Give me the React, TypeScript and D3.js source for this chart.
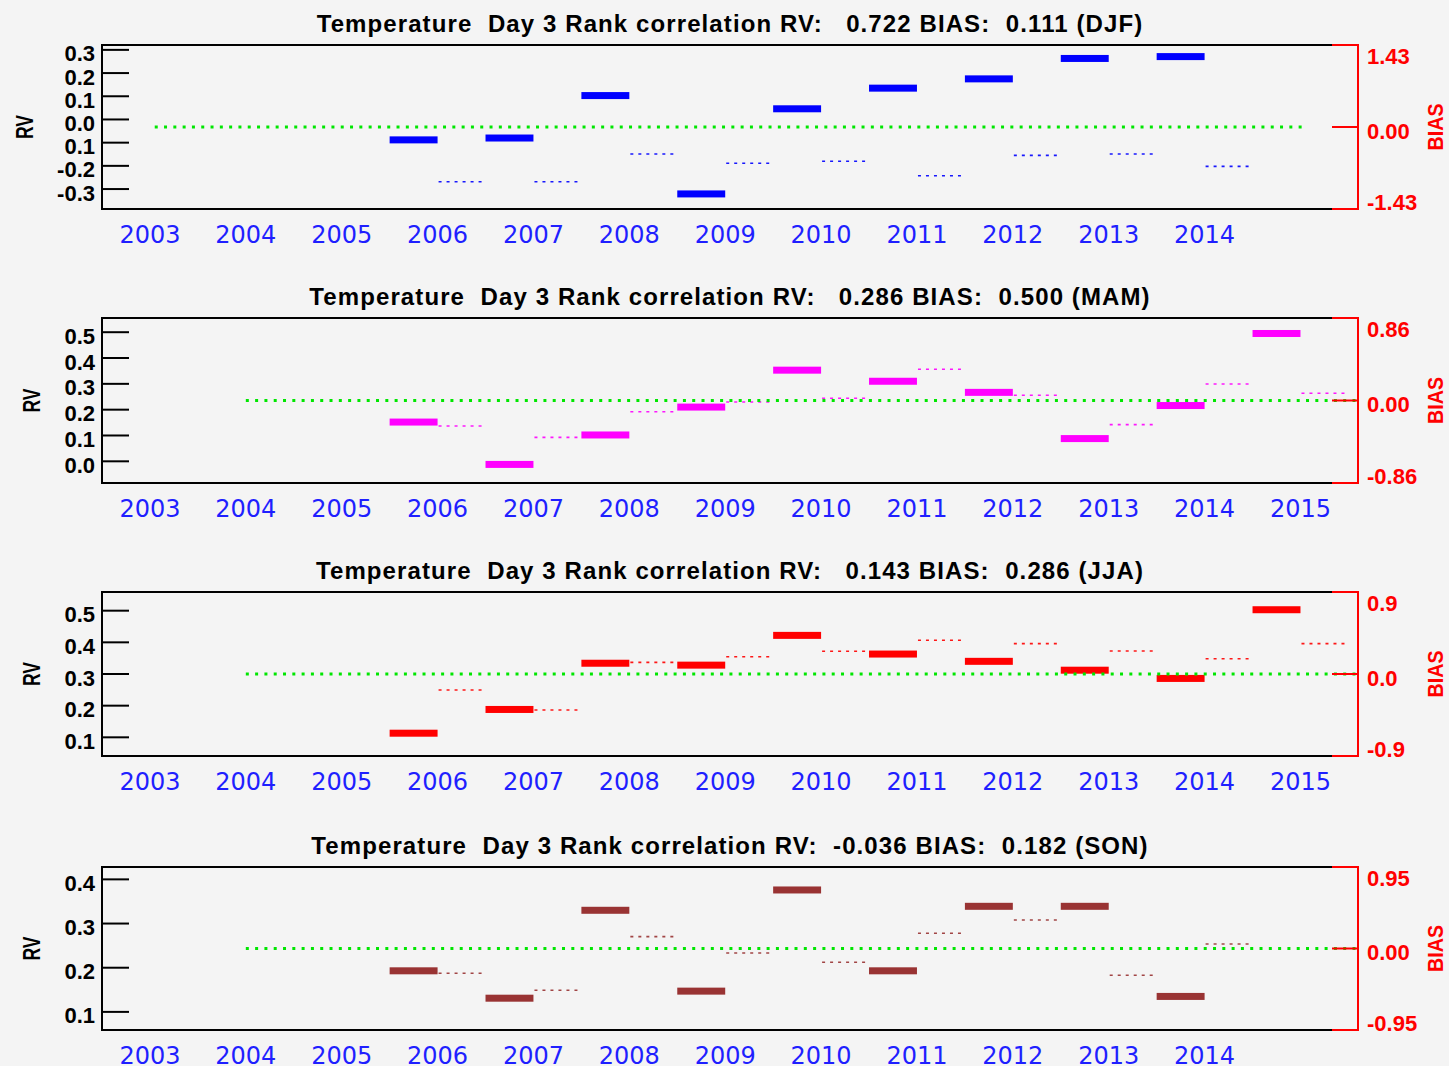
import React from 'react';
import * as d3 from 'd3';

// ---------- DATA ----------
const djfTitle = 'Temperature  Day 3 Rank correlation RV:   0.722 BIAS:  0.111 (DJF)';
const djfXLabels = [2003, 2004, 2005, 2006, 2007, 2008, 2009, 2010, 2011, 2012, 2013, 2014];
const djfYears = [2006, 2007, 2008, 2009, 2010, 2011, 2012, 2013, 2014];
const djfRV = [-0.088, -0.08, 0.103, -0.321, 0.046, 0.135, 0.175, 0.263, 0.271];
const djfBias = [-0.954, -0.954, -0.471, -0.633, -0.598, -0.849, -0.494, -0.471, -0.686];
const djfRVDomain = [-0.386, 0.321];
const djfRVTicks = [0.3, 0.2, 0.1, 0.0, -0.1, -0.2, -0.3];
const djfRVTickLabels = ['0.3', '0.2', '0.1', '0.0', '0.1', '-0.2', '-0.3'];
const djfBiasMax = 1.43;
const djfBiasLabels = ['1.43', '0.00', '-1.43'];
const djfZeroSpan = [2003.05, 2015.02];

const mamTitle = 'Temperature  Day 3 Rank correlation RV:   0.286 BIAS:  0.500 (MAM)';
const mamXLabels = [2003, 2004, 2005, 2006, 2007, 2008, 2009, 2010, 2011, 2012, 2013, 2014, 2015];
const mamYears = [2006, 2007, 2008, 2009, 2010, 2011, 2012, 2013, 2014, 2015];
const mamRV = [0.152, -0.012, 0.102, 0.21, 0.353, 0.31, 0.267, 0.088, 0.216, 0.495];
const mamBias = [-0.266, -0.384, -0.117, -0.016, 0.023, 0.325, 0.054, -0.252, 0.172, 0.075];
const mamRVDomain = [-0.084, 0.555];
const mamRVTicks = [0.5, 0.4, 0.3, 0.2, 0.1, 0.0];
const mamRVTickLabels = ['0.5', '0.4', '0.3', '0.2', '0.1', '0.0'];
const mamBiasMax = 0.86;
const mamBiasLabels = ['0.86', '0.00', '-0.86'];
const mamZeroSpan = [2004.0, 2015.6];

const jjaTitle = 'Temperature  Day 3 Rank correlation RV:   0.143 BIAS:  0.286 (JJA)';
const jjaXLabels = [2003, 2004, 2005, 2006, 2007, 2008, 2009, 2010, 2011, 2012, 2013, 2014, 2015];
const jjaYears = [2006, 2007, 2008, 2009, 2010, 2011, 2012, 2013, 2014, 2015];
const jjaRV = [0.113, 0.188, 0.334, 0.328, 0.422, 0.363, 0.34, 0.312, 0.286, 0.503];
const jjaBias = [-0.176, -0.395, 0.128, 0.19, 0.249, 0.37, 0.333, 0.252, 0.168, 0.333];
const jjaRVDomain = [0.041, 0.559];
const jjaRVTicks = [0.5, 0.4, 0.3, 0.2, 0.1];
const jjaRVTickLabels = ['0.5', '0.4', '0.3', '0.2', '0.1'];
const jjaBiasMax = 0.9;
const jjaBiasLabels = ['0.9', '0.0', '-0.9'];
const jjaZeroSpan = [2004.0, 2015.6];

const sonTitle = 'Temperature  Day 3 Rank correlation RV:  -0.036 BIAS:  0.182 (SON)';
const sonXLabels = [2003, 2004, 2005, 2006, 2007, 2008, 2009, 2010, 2011, 2012, 2013, 2014];
const sonYears = [2006, 2007, 2008, 2009, 2010, 2011, 2012, 2013, 2014];
const sonRV = [0.193, 0.131, 0.33, 0.147, 0.376, 0.193, 0.339, 0.339, 0.135];
const sonBias = [-0.289, -0.487, 0.138, -0.052, -0.161, 0.177, 0.332, -0.312, 0.052];
const sonRVDomain = [0.059, 0.428];
const sonRVTicks = [0.4, 0.3, 0.2, 0.1];
const sonRVTickLabels = ['0.4', '0.3', '0.2', '0.1'];
const sonBiasMax = 0.95;
const sonBiasLabels = ['0.95', '0.00', '-0.95'];
const sonZeroSpan = [2004.0, 2015.6];

const panels = [
  { title: djfTitle, xLabels: djfXLabels, years: djfYears, rv: djfRV, bias: djfBias, rvDomain: djfRVDomain, rvTicks: djfRVTicks, rvTickLabels: djfRVTickLabels, biasMax: djfBiasMax, biasLabels: djfBiasLabels, zeroSpan: djfZeroSpan, color: '#0000ff' },
  { title: mamTitle, xLabels: mamXLabels, years: mamYears, rv: mamRV, bias: mamBias, rvDomain: mamRVDomain, rvTicks: mamRVTicks, rvTickLabels: mamRVTickLabels, biasMax: mamBiasMax, biasLabels: mamBiasLabels, zeroSpan: mamZeroSpan, color: '#ff00ff' },
  { title: jjaTitle, xLabels: jjaXLabels, years: jjaYears, rv: jjaRV, bias: jjaBias, rvDomain: jjaRVDomain, rvTicks: jjaRVTicks, rvTickLabels: jjaRVTickLabels, biasMax: jjaBiasMax, biasLabels: jjaBiasLabels, zeroSpan: jjaZeroSpan, color: '#ff0000' },
  { title: sonTitle, xLabels: sonXLabels, years: sonYears, rv: sonRV, bias: sonBias, rvDomain: sonRVDomain, rvTicks: sonRVTicks, rvTickLabels: sonRVTickLabels, biasMax: sonBiasMax, biasLabels: sonBiasLabels, zeroSpan: sonZeroSpan, color: '#993333' },
];

// ---------- LAYOUT ----------
const W = 1449;
const H = 1066;
const BG = '#f4f4f4';
const TOPS = [45, 318, 592, 867];
const BOTTOMS = [209, 483, 756, 1030];
const X_LEFT = 102;
const X_BLACK_END = 1332;
const X_RIGHT = 1358;
const SANS = '"Liberation Sans", Arial, Helvetica, sans-serif';

const xScale = d3.scaleLinear().domain([2002.5, 2015.6]).range([X_LEFT, X_RIGHT]);

const charW: Record<string, number> = { '-': 0.333, '.': 0.278 };
function labelWidth(s: string, size: number) {
  let w = 0;
  for (const c of s) w += charW[c] ?? 0.556;
  return w * size;
}

function Panel({ p, i }: { p: any; i: number }) {
  const top = TOPS[i];
  const bottom = BOTTOMS[i];
  const yRV = d3.scaleLinear().domain(p.rvDomain).range([bottom, top]);
  const yB = d3.scaleLinear().domain([-p.biasMax, p.biasMax]).range([bottom, top]);
  const mid = (top + bottom) / 2;
  const maxW = d3.max(p.rvTickLabels as string[], (s) => labelWidth(s, 22)) as number;
  const rvX = 95 - maxW - 33;
  const y0 = yB(0);
  const biasLabelY = [top + 18.5, y0 + 11.5, bottom + 0.5];
  return (
    <g>
      <text x={730} y={top - 13.5} textAnchor="middle" fontFamily={SANS} fontWeight="bold" fontSize={24}
        letterSpacing={1.1} style={{ whiteSpace: 'pre' }} fill="#000">{p.title}</text>
      {/* RV bars */}
      {p.years.map((yr: number, k: number) => (
        <rect key={'b' + k} x={xScale(yr - 0.5)} y={yRV(p.rv[k]) - 3.5} width={xScale(yr) - xScale(yr - 0.5)} height={7} fill={p.color} />
      ))}
      {/* bias dashed */}
      {p.years.map((yr: number, k: number) => (
        <line key={'d' + k} x1={xScale(yr) + 1} x2={xScale(yr + 0.5)} y1={yB(p.bias[k])} y2={yB(p.bias[k])}
          stroke={p.color} strokeWidth={1.6} strokeDasharray="3 5" opacity={0.9} />
      ))}
      {/* zero bias line */}
      <line x1={xScale(p.zeroSpan[0])} x2={xScale(p.zeroSpan[1])} y1={y0} y2={y0} stroke="#00e600" strokeWidth={3} strokeDasharray="3 6.3" />
      {/* frame */}
      <line x1={X_LEFT} x2={X_BLACK_END} y1={top} y2={top} stroke="#000" strokeWidth={2} />
      <line x1={X_LEFT} x2={X_BLACK_END} y1={bottom} y2={bottom} stroke="#000" strokeWidth={2} />
      <line x1={X_LEFT} x2={X_LEFT} y1={top - 1} y2={bottom + 1} stroke="#000" strokeWidth={2} />
      <line x1={X_BLACK_END} x2={X_RIGHT} y1={top} y2={top} stroke="#ff0000" strokeWidth={2} />
      <line x1={X_BLACK_END} x2={X_RIGHT} y1={bottom} y2={bottom} stroke="#ff0000" strokeWidth={2} />
      <line x1={X_RIGHT} x2={X_RIGHT} y1={top - 1} y2={bottom + 1} stroke="#ff0000" strokeWidth={2} />
      <line x1={X_BLACK_END} x2={X_RIGHT} y1={y0} y2={y0} stroke="#ff0000" strokeWidth={2} />
      {/* left ticks */}
      {p.rvTicks.map((t: number, k: number) => (
        <g key={'t' + k}>
          <line x1={X_LEFT} x2={129} y1={yRV(t)} y2={yRV(t)} stroke="#000" strokeWidth={2} />
          <text x={95} y={yRV(t) + 11.5} textAnchor="end" fontFamily={SANS} fontWeight="bold" fontSize={22} fill="#000">{p.rvTickLabels[k]}</text>
        </g>
      ))}
      <text transform={`translate(${rvX},${mid}) rotate(-90)`} textAnchor="middle" dominantBaseline="central"
        fontFamily={SANS} fontWeight="bold" fontSize={24} textLength={24} lengthAdjust="spacingAndGlyphs" fill="#000">RV</text>
      {/* right labels */}
      {p.biasLabels.map((s: string, k: number) => (
        <text key={'r' + k} x={1367} y={biasLabelY[k]} fontFamily={SANS} fontWeight="bold" fontSize={22} fill="#ff0000">{s}</text>
      ))}
      <text transform={`translate(1435,${mid}) rotate(-90)`} textAnchor="middle" dominantBaseline="central"
        fontFamily={SANS} fontWeight="bold" fontSize={22} textLength={47} lengthAdjust="spacingAndGlyphs" fill="#ff0000">BIAS</text>
      {/* x labels */}
      {p.xLabels.map((yr: number) => (
        <text key={'x' + yr} x={xScale(yr)} y={bottom + 34} textAnchor="middle" fontFamily='"DejaVu Sans", sans-serif' fontSize={24} fill="#1f1fff">{String(yr)}</text>
      ))}
    </g>
  );
}

export default function App() {
  return (
    <svg width={W} height={H} style={{ position: 'absolute', left: 0, top: 0, display: 'block' }}>
      <rect x={0} y={0} width={W} height={H} fill={BG} />
      {panels.map((p, i) => <Panel key={i} p={p} i={i} />)}
    </svg>
  );
}
